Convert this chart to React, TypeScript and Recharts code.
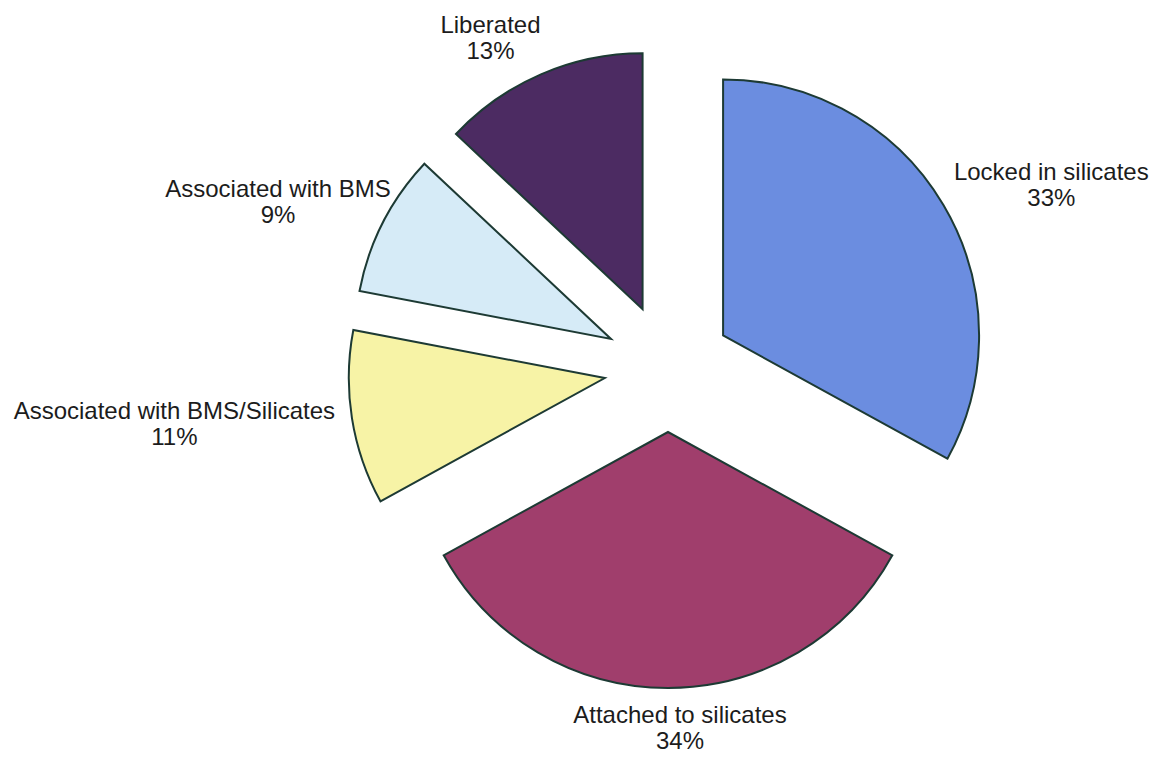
import { PieChart, Pie, Cell } from "recharts";

// gold deportment by association, clockwise from 12 o'clock
const categories = [
  "Locked in silicates",
  "Attached to silicates",
  "Associated with BMS/Silicates",
  "Associated with BMS",
  "Liberated",
];
const shares = [33, 34, 11, 9, 13];

const COLORS = ["#6b8de0", "#a03e6c", "#f7f3a6", "#d6ebf7", "#4c2b62"];
const EDGE = "#1d3a34";

const WIDTH = 1164;
const HEIGHT = 760;
const CX = 668;
const CY = 368;
const RADIUS = 256;
const EXPLODE = 64;

const FONT = "'Liberation Sans', Arial, sans-serif";
const FONT_SIZE = 24;
const LABEL_GAP = 14;
const LABEL_H = 52;
// small hand adjustments of the label boxes
const LABEL_NUDGE: [number, number][] = [
  [12, 0],
  [12, 0],
  [-5, 0],
  [8, -3],
  [-25, 0],
];

const data = categories.map((name, i) => ({ name, value: shares[i] }));
const total = shares.reduce((a, b) => a + b, 0);

// direction each slice is pulled out along (its bisector)
const directions = shares.map((v, i) => {
  const before = shares.slice(0, i).reduce((a, b) => a + b, 0);
  const mid = ((before + v / 2) / total) * 2 * Math.PI;
  return [Math.sin(mid), -Math.cos(mid)];
});

let ctx: CanvasRenderingContext2D | null = null;
const textWidth = (s: string) => {
  if (!ctx) ctx = document.createElement("canvas").getContext("2d");
  if (!ctx) return s.length * FONT_SIZE * 0.5;
  ctx.font = `${FONT_SIZE}px 'Liberation Sans', Arial, sans-serif`;
  return ctx.measureText(s).width;
};

const makeLabel = (slice: number, px: number, py: number) => (props: any) => {
  if (props.index !== slice) return null;
  const [dx, dy] = directions[slice];
  const name = categories[slice];
  const pct = `${shares[slice]}%`;
  const w = Math.max(textWidth(name), textWidth(pct));
  const r = RADIUS + LABEL_GAP;
  const x = px + dx * r + (dx * w) / 2 + LABEL_NUDGE[slice][0];
  const y = py + dy * r + (dy * LABEL_H) / 2 + LABEL_NUDGE[slice][1];
  return (
    <text
      x={x}
      y={y}
      textAnchor="middle"
      fontFamily={FONT}
      fontSize={FONT_SIZE}
      fill="#1c1c1c"
    >
      <tspan x={x} y={y - 5}>
        {name}
      </tspan>
      <tspan x={x} y={y + 21}>
        {pct}
      </tspan>
    </text>
  );
};

export default function App() {
  return (
    <div
      style={{
        position: "absolute",
        left: 0,
        top: 0,
        width: WIDTH,
        height: HEIGHT,
        background: "#fff",
      }}
    >
      <PieChart
        width={WIDTH}
        height={HEIGHT}
        margin={{ top: 0, right: 0, bottom: 0, left: 0 }}
      >
        {data.map((_, i) => {
          const px = CX + directions[i][0] * EXPLODE;
          const py = CY + directions[i][1] * EXPLODE;
          return (
            <Pie
              key={categories[i]}
              data={data}
              dataKey="value"
              nameKey="name"
              cx={px}
              cy={py}
              outerRadius={RADIUS}
              startAngle={90}
              endAngle={-270}
              isAnimationActive={false}
              labelLine={false}
              label={makeLabel(i, px, py)}
            >
              {data.map((d, j) =>
                j === i ? (
                  <Cell
                    key={d.name}
                    fill={COLORS[j]}
                    stroke={EDGE}
                    strokeWidth={2}
                  />
                ) : (
                  <Cell key={d.name} fill="none" stroke="none" />
                )
              )}
            </Pie>
          );
        })}
      </PieChart>
    </div>
  );
}
